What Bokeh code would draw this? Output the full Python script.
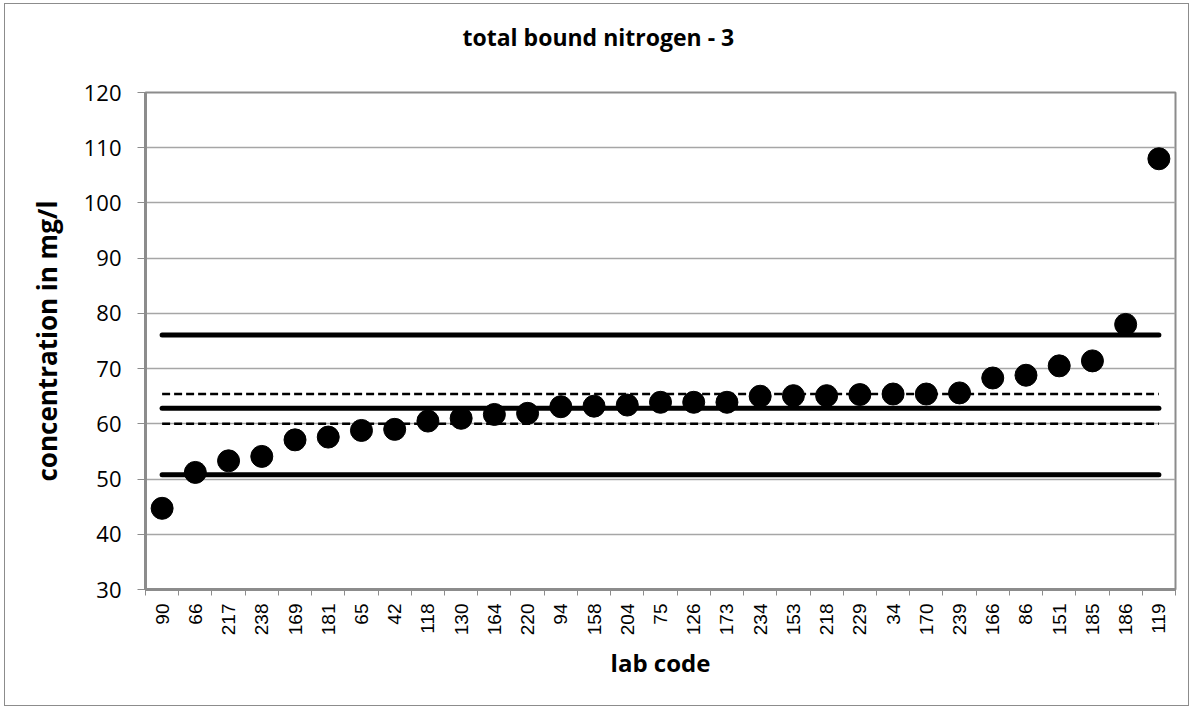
from bokeh.plotting import figure
from bokeh.models import Range1d, FixedTicker, Title
from bokeh.embed import file_html
from bokeh.resources import INLINE

lab_codes = ["90", "66", "217", "238", "169", "181", "65", "42", "118", "130",
             "164", "220", "94", "158", "204", "75", "126", "173", "234", "153",
             "218", "229", "34", "170", "239", "166", "86", "151", "185", "186", "119"]
concentration = [44.7, 51.2, 53.3, 54.1, 57.1, 57.6, 58.8, 59.0, 60.5, 61.0,
                 61.7, 61.9, 63.1, 63.2, 63.4, 63.9, 63.9, 63.9, 65.0, 65.1,
                 65.1, 65.3, 65.4, 65.4, 65.6, 68.3, 68.8, 70.5, 71.4, 78.0, 108.0]

assigned_value = 62.8
tolerance_upper = 76.1
tolerance_lower = 50.8
uncertainty_upper = 65.4
uncertainty_lower = 60.0

y_ticks = [30, 40, 50, 60, 70, 80, 90, 100, 110, 120]

n = len(lab_codes)
xs = [i + 0.5 for i in range(n)]

p = figure(width=1185, height=703, output_backend="svg", toolbar_location=None,
           title=None,
           x_range=Range1d(0, n), y_range=Range1d(30, 120),
           min_border_left=140, min_border_right=15, min_border_top=88,
           min_border_bottom=118)
p.styles = {"border": "1px solid #8c8c8c", "margin-left": "4px", "margin-top": "3px"}

# spacer between title and plot area, then the title itself
p.add_layout(Title(text=" ", text_font_size="30px", standoff=0), "above")
p.add_layout(Title(text="total bound nitrogen - 3", align="left", offset=317,
                   text_font="Open Sans", text_font_size="23px", text_font_style="bold",
                   text_color="black"), "above")

# Reference lines from first to last lab
x_ends = [xs[0], xs[-1]]
p.line(x_ends, [tolerance_upper] * 2, line_color="black", line_width=5, line_cap="round")
p.line(x_ends, [tolerance_lower] * 2, line_color="black", line_width=5, line_cap="round")
p.line(x_ends, [assigned_value] * 2, line_color="black", line_width=5, line_cap="round")
p.line(x_ends, [uncertainty_upper] * 2, line_color="black", line_width=2.5, line_dash="8 4")
p.line(x_ends, [uncertainty_lower] * 2, line_color="black", line_width=2.5, line_dash="8 4")

p.scatter(xs, concentration, size=22, fill_color="black", line_color="black")

# axes
p.xaxis.ticker = FixedTicker(ticks=xs, minor_ticks=list(range(n + 1)))
p.xaxis.major_label_overrides = {x: c for x, c in zip(xs, lab_codes)}
p.xaxis.major_label_orientation = 3.14159265 / 2
p.xaxis.major_tick_line_color = None
p.xaxis.major_tick_out = 6
p.xaxis.minor_tick_line_color = "#8c8c8c"
p.xaxis.minor_tick_line_width = 1
p.xaxis.minor_tick_out = 6
p.xaxis.minor_tick_in = 0
p.xaxis.major_label_text_font = "Liberation Sans"
p.xaxis.major_label_text_font_size = "19px"
p.xaxis.major_label_standoff = 8
p.xaxis.axis_label = "lab code"
p.xaxis.axis_label_text_font = "Open Sans"
p.xaxis.axis_label_text_font_style = "bold"
p.xaxis.axis_label_text_font_size = "24px"
p.xaxis.axis_label_standoff = 8

p.yaxis.ticker = FixedTicker(ticks=y_ticks)
p.yaxis.minor_tick_line_color = None
p.yaxis.major_tick_line_color = "#8c8c8c"
p.yaxis.major_tick_out = 8
p.yaxis.major_tick_in = 0
p.yaxis.major_label_text_font = "Open Sans"
p.yaxis.major_label_text_font_size = "22px"
p.yaxis.major_label_standoff = 16
p.yaxis.axis_label = "concentration in mg/l"
p.yaxis.axis_label_text_font = "Open Sans"
p.yaxis.axis_label_text_font_style = "bold"
p.yaxis.axis_label_text_font_size = "26px"
p.yaxis.axis_label_standoff = 16

for ax in (p.xaxis, p.yaxis):
    ax.axis_line_color = "#8c8c8c"
    ax.axis_line_width = 3
    ax.major_label_text_color = "black"
    ax.axis_label_text_color = "black"

p.xgrid.grid_line_color = None
p.ygrid.grid_line_color = "#a6a6a6"
p.ygrid.grid_line_width = 1.5
p.outline_line_color = "#8c8c8c"
p.outline_line_width = 2
p.outline_line_alpha = 1

open("out.html", "w").write(file_html(p, INLINE))
